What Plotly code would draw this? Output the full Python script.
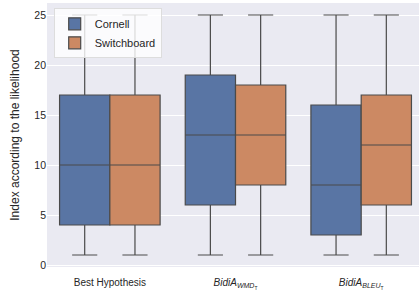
import plotly.graph_objects as go

categories = ["Best Hypothesis", "BidiA_WMD", "BidiA_BLEU"]
tick_labels = ["Best Hypothesis",
               "<i>BidiA</i><sub><i>WMD</i><sub>T</sub></sub>",
               "<i>BidiA</i><sub><i>BLEU</i><sub>T</sub></sub>"]

cornell_min = [1, 1, 1]
cornell_q1 = [4, 6, 3]
cornell_med = [10, 13, 8]
cornell_q3 = [17, 19, 16]
cornell_max = [25, 25, 25]

switch_min = [1, 1, 1]
switch_q1 = [4, 8, 6]
switch_med = [10, 13, 12]
switch_q3 = [17, 18, 17]
switch_max = [25, 25, 25]

fig = go.Figure()
fig.add_trace(go.Box(
    name="Cornell", x=categories, q1=cornell_q1, median=cornell_med, q3=cornell_q3,
    lowerfence=cornell_min, upperfence=cornell_max,
    fillcolor="#5975a4", line=dict(color="#4a4a4a", width=1.2), whiskerwidth=0.5,
    boxpoints=False))
fig.add_trace(go.Box(
    name="Switchboard", x=categories, q1=switch_q1, median=switch_med, q3=switch_q3,
    lowerfence=switch_min, upperfence=switch_max,
    fillcolor="#cc8963", line=dict(color="#4a4a4a", width=1.2), whiskerwidth=0.5,
    boxpoints=False))

fig.update_layout(
    width=419, height=294,
    margin=dict(l=47, r=0, t=3, b=27),
    boxmode="group", boxgap=0.2, boxgroupgap=0,
    plot_bgcolor="#EAEAF2", paper_bgcolor="white",
    font=dict(family="Arial, Liberation Sans", size=10, color="#262626"),
    legend=dict(x=0.018, y=0.98, xanchor="left", yanchor="top",
                bgcolor="rgba(255,255,255,0.8)", bordercolor="#dddddd", borderwidth=1,
                font=dict(size=11), tracegroupgap=0),
    showlegend=True,
)
fig.update_xaxes(range=[-0.5, 2.46], tickvals=categories, ticktext=tick_labels,
                 showgrid=False, zeroline=False, ticks="", tickfont=dict(size=10),
                 ticklabelstandoff=8, automargin=False)
fig.update_yaxes(range=[-0.2, 26.2], tickvals=[0, 5, 10, 15, 20, 25],
                 showgrid=True, gridcolor="white", gridwidth=1, zeroline=False,
                 ticks="", tickfont=dict(size=10.5), automargin=False,
                 title=dict(text="Index according to the likelihood", font=dict(size=12), standoff=12))

fig.write_html("out.html", post_script="document.body.style.margin='0';",
               config={"displayModeBar": False})
